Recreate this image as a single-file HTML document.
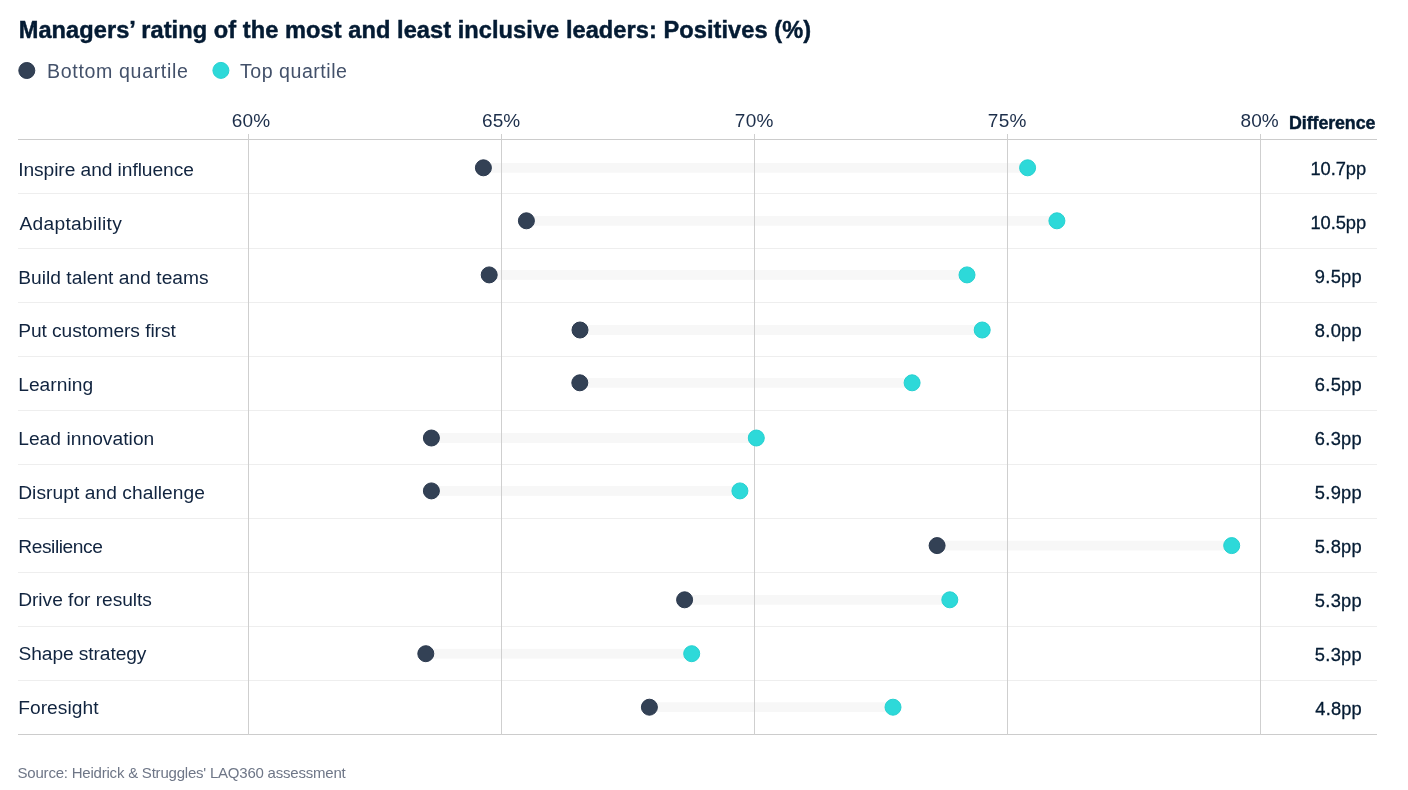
<!DOCTYPE html>
<html lang="en"><head><meta charset="utf-8"><title>Managers’ rating of the most and least inclusive leaders</title>
<style>
html,body{margin:0;padding:0;background:#fff}
body{font-family:"Liberation Sans",sans-serif}
#chart{position:relative;width:1408px;height:790px;background:#fff;overflow:hidden}
.t{position:absolute;white-space:nowrap;line-height:1;margin:0;padding:0}
#chart .dif{-webkit-text-stroke:0.3px #041b33}
#chart .hv{-webkit-text-stroke:0.45px #041b33}
</style></head><body>
<div id="chart">
<svg id="plot" width="1408" height="790" viewBox="0 0 1408 790" style="position:absolute;left:0;top:0" aria-hidden="true">
<g fill="#f7f7f7">
<rect x="483.4" y="162.9" width="544.2" height="9.8"/>
<rect x="526.4" y="215.9" width="530.5" height="9.8"/>
<rect x="489.2" y="270.0" width="477.8" height="9.8"/>
<rect x="580.0" y="325.1" width="402.2" height="9.8"/>
<rect x="579.8" y="377.9" width="332.3" height="9.8"/>
<rect x="431.4" y="433.1" width="324.9" height="9.8"/>
<rect x="431.4" y="486.0" width="308.5" height="9.8"/>
<rect x="937.1" y="540.7" width="294.6" height="9.8"/>
<rect x="684.6" y="594.9" width="265.2" height="9.8"/>
<rect x="425.8" y="648.8" width="265.9" height="9.8"/>
<rect x="649.4" y="702.3" width="243.6" height="9.8"/>
</g>
<g shape-rendering="crispEdges">
<rect x="18" y="139" width="1359" height="1" fill="#cccccc"/>
<rect x="18" y="193" width="1359" height="1" fill="#eeeeee"/>
<rect x="18" y="248" width="1359" height="1" fill="#eeeeee"/>
<rect x="18" y="302" width="1359" height="1" fill="#eeeeee"/>
<rect x="18" y="356" width="1359" height="1" fill="#eeeeee"/>
<rect x="18" y="410" width="1359" height="1" fill="#eeeeee"/>
<rect x="18" y="464" width="1359" height="1" fill="#eeeeee"/>
<rect x="18" y="518" width="1359" height="1" fill="#eeeeee"/>
<rect x="18" y="572" width="1359" height="1" fill="#eeeeee"/>
<rect x="18" y="626" width="1359" height="1" fill="#eeeeee"/>
<rect x="18" y="680" width="1359" height="1" fill="#eeeeee"/>
<rect x="18" y="734" width="1359" height="1" fill="#cccccc"/>
<rect x="248" y="134" width="1" height="601" fill="#cfcfcf"/>
<rect x="501" y="134" width="1" height="601" fill="#cfcfcf"/>
<rect x="754" y="134" width="1" height="601" fill="#cfcfcf"/>
<rect x="1007" y="134" width="1" height="601" fill="#cfcfcf"/>
<rect x="1260" y="134" width="1" height="601" fill="#cfcfcf"/>
</g>
<circle cx="26.8" cy="70.5" r="8" fill="#334155" stroke="#2b394e" stroke-width="1"/>
<circle cx="220.9" cy="70.4" r="8" fill="#2dd9d9" stroke="#26d1d1" stroke-width="1"/>
<circle cx="483.4" cy="167.8" r="8" fill="#334155" stroke="#2b394e" stroke-width="1"/>
<circle cx="1027.6" cy="167.8" r="8" fill="#2dd9d9" stroke="#26d1d1" stroke-width="1"/>
<circle cx="526.4" cy="220.8" r="8" fill="#334155" stroke="#2b394e" stroke-width="1"/>
<circle cx="1056.9" cy="220.8" r="8" fill="#2dd9d9" stroke="#26d1d1" stroke-width="1"/>
<circle cx="489.2" cy="274.9" r="8" fill="#334155" stroke="#2b394e" stroke-width="1"/>
<circle cx="967.0" cy="274.9" r="8" fill="#2dd9d9" stroke="#26d1d1" stroke-width="1"/>
<circle cx="580.0" cy="330.0" r="8" fill="#334155" stroke="#2b394e" stroke-width="1"/>
<circle cx="982.2" cy="330.0" r="8" fill="#2dd9d9" stroke="#26d1d1" stroke-width="1"/>
<circle cx="579.8" cy="382.8" r="8" fill="#334155" stroke="#2b394e" stroke-width="1"/>
<circle cx="912.1" cy="382.8" r="8" fill="#2dd9d9" stroke="#26d1d1" stroke-width="1"/>
<circle cx="431.4" cy="438.0" r="8" fill="#334155" stroke="#2b394e" stroke-width="1"/>
<circle cx="756.3" cy="438.0" r="8" fill="#2dd9d9" stroke="#26d1d1" stroke-width="1"/>
<circle cx="431.4" cy="490.9" r="8" fill="#334155" stroke="#2b394e" stroke-width="1"/>
<circle cx="739.9" cy="490.9" r="8" fill="#2dd9d9" stroke="#26d1d1" stroke-width="1"/>
<circle cx="937.1" cy="545.6" r="8" fill="#334155" stroke="#2b394e" stroke-width="1"/>
<circle cx="1231.7" cy="545.6" r="8" fill="#2dd9d9" stroke="#26d1d1" stroke-width="1"/>
<circle cx="684.6" cy="599.8" r="8" fill="#334155" stroke="#2b394e" stroke-width="1"/>
<circle cx="949.8" cy="599.8" r="8" fill="#2dd9d9" stroke="#26d1d1" stroke-width="1"/>
<circle cx="425.8" cy="653.7" r="8" fill="#334155" stroke="#2b394e" stroke-width="1"/>
<circle cx="691.7" cy="653.7" r="8" fill="#2dd9d9" stroke="#26d1d1" stroke-width="1"/>
<circle cx="649.4" cy="707.2" r="8" fill="#334155" stroke="#2b394e" stroke-width="1"/>
<circle cx="893.0" cy="707.2" r="8" fill="#2dd9d9" stroke="#26d1d1" stroke-width="1"/>
</svg>
<h1 class="t hv" id="title" style="left:18.70px;top:19.02px;font-size:23.6px;font-weight:700;color:#041b33;letter-spacing:0.063px">Managers’ rating of the most and least inclusive leaders: Positives (%)</h1>
<div class="t" id="leg1" style="left:47.04px;top:62.31px;font-size:19.6px;font-weight:400;color:#43516a;letter-spacing:0.646px">Bottom quartile</div>
<div class="t" id="leg2" style="left:240.00px;top:62.31px;font-size:19.6px;font-weight:400;color:#43516a;letter-spacing:0.509px">Top quartile</div>
<div class="t" id="ax0" style="left:231.80px;top:110.92px;font-size:19px;font-weight:400;color:#1c2e4a;letter-spacing:0.218px">60%</div>
<div class="t" id="ax1" style="left:482.02px;top:110.92px;font-size:19px;font-weight:400;color:#1c2e4a;letter-spacing:0.088px">65%</div>
<div class="t" id="ax2" style="left:734.71px;top:110.92px;font-size:19px;font-weight:400;color:#1c2e4a;letter-spacing:0.359px">70%</div>
<div class="t" id="ax3" style="left:987.71px;top:110.92px;font-size:19px;font-weight:400;color:#1c2e4a;letter-spacing:0.359px">75%</div>
<div class="t" id="ax4" style="left:1240.60px;top:110.92px;font-size:19px;font-weight:400;color:#1c2e4a;letter-spacing:0.014px">80%</div>
<div class="t hv" id="diffh" style="left:1289.07px;top:114.83px;font-size:17.8px;font-weight:700;color:#041b33;letter-spacing:-0.075px">Difference</div>
<div class="t" id="lab0" style="left:18.20px;top:159.85px;font-size:19.2px;font-weight:400;color:#11243f;letter-spacing:-0.070px">Inspire and influence</div>
<div class="t dif" id="dif0" style="left:1310.52px;top:160.47px;font-size:18.3px;font-weight:400;color:#041b33;letter-spacing:-0.064px">10.7pp</div>
<div class="t" id="lab1" style="left:19.46px;top:213.63px;font-size:19.2px;font-weight:400;color:#11243f;letter-spacing:0.288px">Adaptability</div>
<div class="t dif" id="dif1" style="left:1310.52px;top:214.47px;font-size:18.3px;font-weight:400;color:#041b33;letter-spacing:-0.064px">10.5pp</div>
<div class="t" id="lab2" style="left:18.20px;top:268.41px;font-size:19.2px;font-weight:400;color:#11243f;letter-spacing:0.029px">Build talent and teams</div>
<div class="t dif" id="dif2" style="left:1314.80px;top:268.47px;font-size:18.3px;font-weight:400;color:#041b33;letter-spacing:0.299px">9.5pp</div>
<div class="t" id="lab3" style="left:18.20px;top:321.19px;font-size:19.2px;font-weight:400;color:#11243f;letter-spacing:-0.072px">Put customers first</div>
<div class="t dif" id="dif3" style="left:1314.83px;top:322.47px;font-size:18.3px;font-weight:400;color:#041b33;letter-spacing:0.292px">8.0pp</div>
<div class="t" id="lab4" style="left:18.20px;top:374.97px;font-size:19.2px;font-weight:400;color:#11243f;letter-spacing:0.030px">Learning</div>
<div class="t dif" id="dif4" style="left:1314.80px;top:376.47px;font-size:18.3px;font-weight:400;color:#041b33;letter-spacing:0.300px">6.5pp</div>
<div class="t" id="lab5" style="left:18.20px;top:428.75px;font-size:19.2px;font-weight:400;color:#11243f;letter-spacing:0.043px">Lead innovation</div>
<div class="t dif" id="dif5" style="left:1314.80px;top:430.47px;font-size:18.3px;font-weight:400;color:#041b33;letter-spacing:0.300px">6.3pp</div>
<div class="t" id="lab6" style="left:18.20px;top:482.53px;font-size:19.2px;font-weight:400;color:#11243f;letter-spacing:0.057px">Disrupt and challenge</div>
<div class="t dif" id="dif6" style="left:1314.83px;top:484.47px;font-size:18.3px;font-weight:400;color:#041b33;letter-spacing:0.292px">5.9pp</div>
<div class="t" id="lab7" style="left:18.20px;top:537.31px;font-size:19.2px;font-weight:400;color:#11243f;letter-spacing:-0.415px">Resilience</div>
<div class="t dif" id="dif7" style="left:1314.83px;top:538.47px;font-size:18.3px;font-weight:400;color:#041b33;letter-spacing:0.292px">5.8pp</div>
<div class="t" id="lab8" style="left:18.20px;top:590.09px;font-size:19.2px;font-weight:400;color:#11243f;letter-spacing:-0.035px">Drive for results</div>
<div class="t dif" id="dif8" style="left:1314.83px;top:592.47px;font-size:18.3px;font-weight:400;color:#041b33;letter-spacing:0.292px">5.3pp</div>
<div class="t" id="lab9" style="left:18.52px;top:643.87px;font-size:19.2px;font-weight:400;color:#11243f;letter-spacing:-0.090px">Shape strategy</div>
<div class="t dif" id="dif9" style="left:1314.83px;top:646.47px;font-size:18.3px;font-weight:400;color:#041b33;letter-spacing:0.292px">5.3pp</div>
<div class="t" id="lab10" style="left:18.20px;top:697.65px;font-size:19.2px;font-weight:400;color:#11243f;letter-spacing:0.038px">Foresight</div>
<div class="t dif" id="dif10" style="left:1315.35px;top:700.47px;font-size:18.3px;font-weight:400;color:#041b33;letter-spacing:0.163px">4.8pp</div>
<div class="t" id="foot" style="left:17.59px;top:765.30px;font-size:15px;font-weight:400;color:#6e7687;letter-spacing:-0.215px">Source: Heidrick &amp; Struggles' LAQ360 assessment</div>
</div></body></html>
